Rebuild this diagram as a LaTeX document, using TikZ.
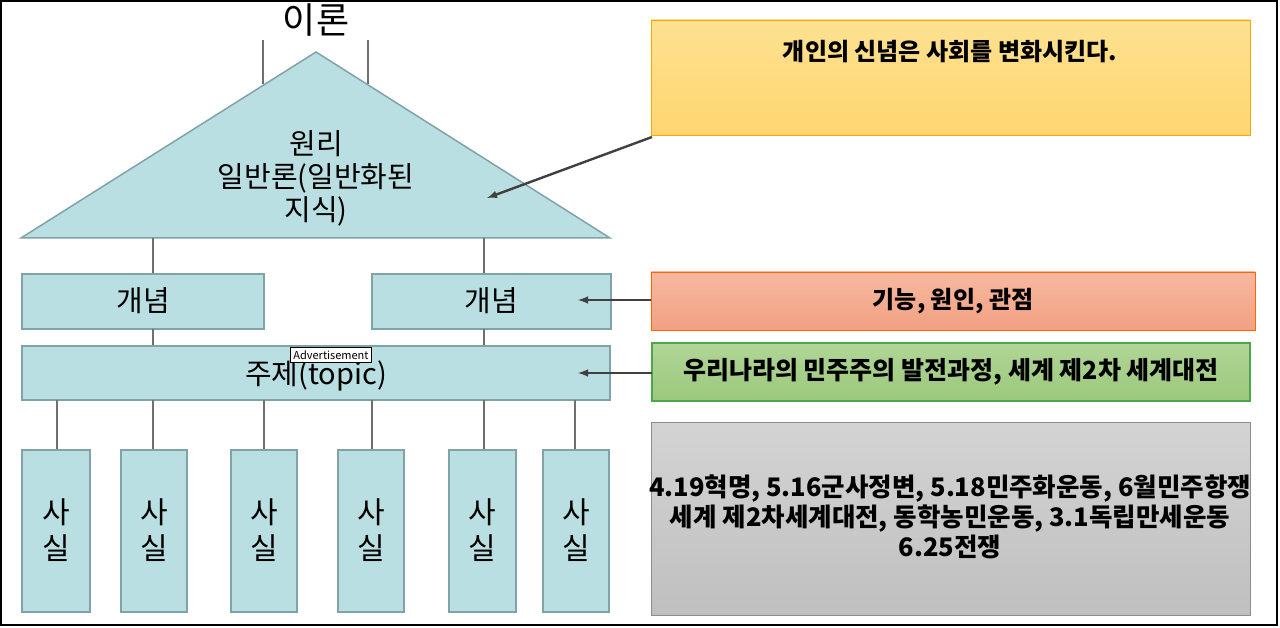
\documentclass[tikz,border=0pt]{standalone}
\usepackage{fontspec}
\setmainfont{Noto Sans CJK KR}
\definecolor{tl}{HTML}{B9DFE2}
\definecolor{tlb}{HTML}{7FA3A7}
\definecolor{ln}{HTML}{707070}
\begin{document}
\begin{tikzpicture}[x=1pt,y=-1pt,
  tbox/.style={draw=tlb,line width=1.5pt,fill=tl},
  conn/.style={draw=ln,line width=2.5pt},
  arr/.style={draw=black!75,line width=2.4pt,-latex},
  rt/.style={font=\bfseries\fontsize{24}{30}\selectfont,align=center}]
\useasboundingbox (0,0) rectangle (1280,628);
\draw[line width=1.5pt] (1,1) rectangle (1277,625);
% title lines
\node (title) at (316,20) {\fontsize{36}{40}\selectfont 이론};
\draw[conn] (263,40) -- (263,84);
\draw[conn] (368,40) -- (368,84);
% triangle
\filldraw[tbox] (316,52) -- (610,238) -- (21,238) -- cycle;
\node (tri) at (316,178) [align=center,font=\fontsize{29}{33}\selectfont] {원리\\일반론(일반화된\\지식)};
\coordinate (trt) at (487,198);
% concept
\draw[conn] (153,238) -- (153,274);
\draw[conn] (484,238) -- (484,274);
\draw[tbox] (22,274) rectangle (264,329);
\node (c1) at (143,301) {\fontsize{29}{33}\selectfont 개념};
\draw[tbox] (372,274) rectangle (611,329);
\node (c2) at (491,301) {\fontsize{29}{33}\selectfont 개념};
\draw[conn] (153,329) -- (153,346);
\draw[conn] (484,329) -- (484,346);
\draw[tbox] (22,346) rectangle (610,400);
\node (topic) at (316,376) {\fontsize{29}{33}\selectfont 주제(topic)};
% facts
\foreach \a/\b/\c in {22/90/57,121/187/153,231/297/264,338/404/372,449/516/484,543/609/575}{
  \draw[conn] (\c,400) -- (\c,450);
  \draw[tbox] (\a,450) rectangle (\b,612);
  \node[align=center,font=\fontsize{30}{36}\selectfont] at ({(\a+\b)/2},530) {사\\실};
}
% advertisement label
\node[draw=black,fill=white,line width=0.6pt,font=\fontsize{11}{12}\selectfont,inner sep=3pt] (ad) at (331,355) {Advertisement};
% right boxes
\shade[top color={rgb,255:red,253;green,225;blue,145},bottom color={rgb,255:red,255;green,214;blue,112}] (651,20) rectangle (1250,135);
\draw[draw=orange!70!yellow,line width=0.8pt] (651,20) rectangle (1250,135);
\node[rt] (y) at (950,52) {개인의 신념은 사회를 변화시킨다.};
\coordinate (ys) at (652,137);
\shade[top color={rgb,255:red,247;green,185;blue,160},bottom color={rgb,255:red,242;green,160;blue,130}] (651,272) rectangle (1255,330);
\draw[draw=orange!80!red,line width=0.8pt] (651,272) rectangle (1255,330);
\node[rt] (o) at (953,301) {기능, 원인, 관점};
\coordinate (os) at (651,300);
\shade[top color={rgb,255:red,176;green,214;blue,150},bottom color={rgb,255:red,156;green,200;blue,125}] (652,343) rectangle (1250,401);
\draw[draw=green!50!black!70,line width=1.2pt] (652,343) rectangle (1250,401);
\node[rt,font=\bfseries\fontsize{25}{30}\selectfont] (g) at (951,372) {우리나라의 민주주의 발전과정, 세계 제2차 세계대전};
\coordinate (gs) at (652,373);
\shade[top color=black!17,bottom color=black!25] (651,422) rectangle (1250,615);
\draw[draw=black!45,line width=0.8pt] (651,422) rectangle (1250,615);
\node[rt,font=\bfseries\fontsize{25.5}{30}\selectfont] (f) at (950,517) {4.19혁명, 5.16군사정변, 5.18민주화운동, 6월민주항쟁\\세계 제2차세계대전, 동학농민운동, 3.1독립만세운동\\6.25전쟁};
% arrows
\draw[arr] (ys) -- (trt);
\draw[arr] (os) -- (578,300);
\draw[arr] (gs) -- (578,373);
\end{tikzpicture}
\end{document}
